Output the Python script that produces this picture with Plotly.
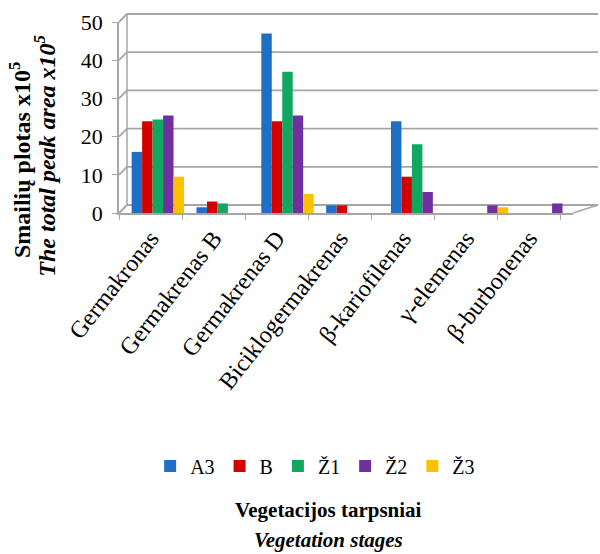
import plotly.graph_objects as go

categories = ["Germakronas", "Germakrenas B", "Germakrenas D", "Biciklogermakrenas",
              "β-kariofilenas", "γ-elemenas", "β-burbonenas"]
series_names = ["A3", "B", "Ž1", "Ž2", "Ž3"]
A3 = [16, 1.5, 47, 2, 24, 0, 0]
B = [24, 3, 24, 2, 9.5, 0, 0]
Z1 = [24.5, 2.5, 37, 0, 18, 0, 0]
Z2 = [25.5, 0, 25.5, 0, 5.5, 2, 2.5]
Z3 = [9.5, 0, 5, 0, 0, 1.5, 0]
series_values = [A3, B, Z1, Z2, Z3]
colors = ["#1F6FC4", "#D40000", "#10A860", "#7030A0", "#FFC000"]
y_ticks = [0, 10, 20, 30, 40, 50]
Y_MAX = 50

FONT = "Liberation Serif"
GRID = "#A6A6A6"

# bar layout (style): group width and a perspective shift to the right
BAR_W = 0.166
N = len(series_names)
def persp_shift(i):
    return (7.5 + 1.8 * i) / 65.0

fig = go.Figure()
for k, (name, vals, col) in enumerate(zip(series_names, series_values, colors)):
    offs = [-N * BAR_W / 2 + k * BAR_W + persp_shift(i) for i in range(len(categories))]
    fig.add_trace(go.Bar(name=name, x=categories, y=vals, width=BAR_W, offset=offs,
                         marker=dict(color=col, line=dict(width=0))))

# pseudo-3D back wall gridlines and floor
shapes = []
for v in y_ticks:
    shapes.append(dict(type="path", xref="paper", yref="paper", xsizemode="pixel", ysizemode="pixel",
                       xanchor=0, yanchor=v / Y_MAX, path="M0,0 L8,8 L479,8",
                       line=dict(color=GRID, width=1.8), layer="below"))
shapes.append(dict(type="path", xref="paper", yref="paper", xsizemode="pixel", ysizemode="pixel",
                   xanchor=0, yanchor=0, path="M8,8 L8,199",
                   line=dict(color=GRID, width=1.5), layer="below"))
shapes.append(dict(type="path", xref="paper", yref="paper", xsizemode="pixel", ysizemode="pixel",
                   xanchor=1, yanchor=0, path="M0,0 L25,8",
                   line=dict(color=GRID, width=1.5), layer="below"))

fig.update_layout(
    width=600, height=554,
    margin=dict(l=119, r=27, t=22, b=341, autoexpand=False),
    paper_bgcolor="white", plot_bgcolor="white",
    barmode="group",
    font=dict(family=FONT, size=19, color="#000000"),
    shapes=shapes,
    showlegend=True,
    legend=dict(orientation="h", x=0.432, xanchor="center", y=-1.325, yanchor="middle",
                font=dict(family=FONT, size=20), itemwidth=30, tracegroupgap=0),
    xaxis=dict(type="category", tickangle=-52, tickson="boundaries", ticks="outside",
               ticklen=5, tickcolor=GRID, showline=True, linecolor=GRID, linewidth=1.5,
               showgrid=False, tickfont=dict(family=FONT, size=24), automargin=False),
    yaxis=dict(range=[0, Y_MAX], tickvals=y_ticks, ticks="outside", ticklen=5, tickcolor=GRID,
               showline=True, linecolor=GRID, linewidth=1.5, showgrid=False, zeroline=False,
               ticklabelstandoff=5, tickfont=dict(family=FONT, size=22), automargin=False),
    annotations=[
        dict(text="<b>Smailių plotas x10<sup>5</sup></b>", textangle=-90, xref="paper", yref="paper",
             x=0, y=0.277, xshift=-99, xanchor="center", yanchor="middle", showarrow=False,
             font=dict(family=FONT, size=24)),
        dict(text="<b><i>The total peak area x10<sup>5</sup></i></b>", textangle=-90, xref="paper", yref="paper",
             x=0, y=0.30, xshift=-74, xanchor="center", yanchor="middle", showarrow=False,
             font=dict(family=FONT, size=24)),
        dict(text="<b>Vegetacijos tarpsniai</b>", xref="paper", yref="paper", x=0.462, y=-1.555,
             xanchor="center", yanchor="middle", showarrow=False, font=dict(family=FONT, size=21)),
        dict(text="<b><i>Vegetation stages</i></b>", xref="paper", yref="paper", x=0.462, y=-1.712,
             xanchor="center", yanchor="middle", showarrow=False, font=dict(family=FONT, size=21)),
    ],
)

fig.write_html("out.html", config={"displayModeBar": False},
               post_script="document.body.style.margin='0';document.body.style.padding='0';")
